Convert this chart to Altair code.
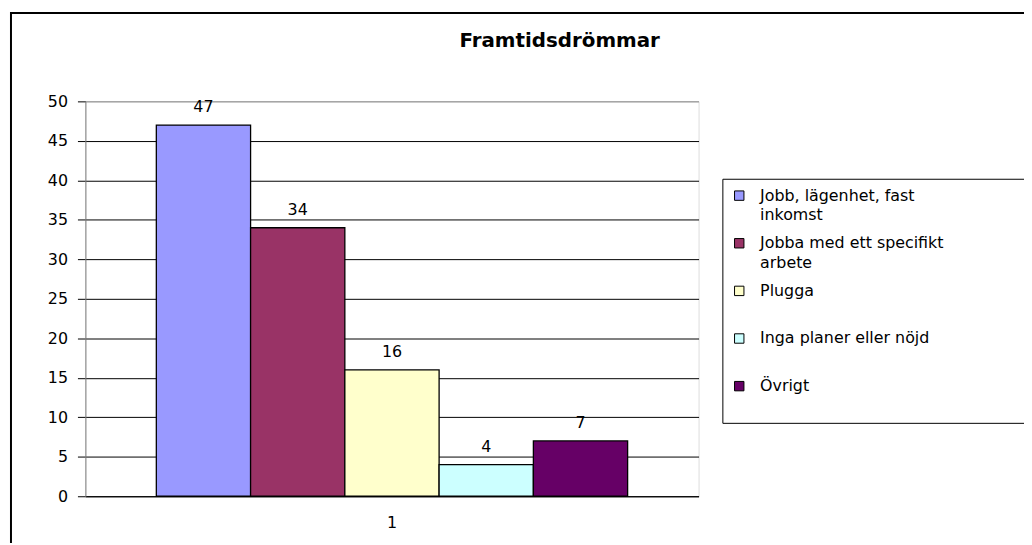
import json
import altair as alt
import pandas as pd

# ---- data ----
series = ["Jobb, lägenhet, fast inkomst", "Jobba med ett specifikt arbete",
          "Plugga", "Inga planer eller nöjd", "Övrigt"]
values = [47, 34, 16, 4, 7]
category = ["1", "1", "1", "1", "1"]
colors = ["#9999FF", "#993366", "#FFFFCC", "#CCFFFF", "#660066"]
PAD = "\u00a0" * 20 + "\u200b"   # invisible padding so the legend box runs off the right edge
legend_lines = [["Jobb, lägenhet, fast", "inkomst"],
                ["Jobba med ett specifikt" + PAD, "arbete"],
                ["Plugga", " "],
                ["Inga planer eller nöjd", " "],
                ["Övrigt", " "]]
y_ticks = [0, 5, 10, 15, 20, 25, 30, 35, 40, 45, 50]

df = pd.DataFrame({"cat": category, "series": series, "value": values})

FONT = "DejaVu Sans"
FS = 16
label_expr = json.dumps(dict(zip(series, legend_lines)), ensure_ascii=False) + "[datum.label]"

x_enc = alt.X("cat:N",
              scale=alt.Scale(paddingInner=0, paddingOuter=0.1505),
              axis=alt.Axis(title=None, labelAngle=0, ticks=False, domainColor="black",
                            domainWidth=1, labelFontSize=FS, labelFont=FONT,
                            labelColor="black", labelPadding=18))
xoff_enc = alt.XOffset("series:N", sort=series,
                       scale=alt.Scale(domain=series, paddingInner=0, paddingOuter=0))
y_enc = alt.Y("value:Q",
              scale=alt.Scale(domain=[0, 50], nice=False),
              axis=alt.Axis(title=None, values=y_ticks, tickSize=8, labelPadding=10,
                            labelFontSize=FS, labelFont=FONT, labelColor="black",
                            labelOverlap=False,
                            domainColor="#808080", tickColor="black",
                            gridColor=alt.condition("datum.value == 50", alt.value("#808080"), alt.value("black")),
                            gridWidth=1, grid=True))

bars = alt.Chart(df).mark_bar(stroke="black", strokeWidth=1.3, opacity=1).encode(
    x=x_enc,
    xOffset=xoff_enc,
    y=y_enc,
    color=alt.Color("series:N",
                    scale=alt.Scale(domain=series, range=colors),
                    legend=alt.Legend(title=None, orient="none", legendX=642, legendY=78,
                                      fillColor="white", strokeColor="black", padding=9,
                                      symbolType="square", symbolSize=90,
                                      symbolStrokeColor="black", symbolStrokeWidth=1,
                                      symbolOpacity=1,
                                      labelFont=FONT, labelFontSize=FS, labelColor="black",
                                      labelLimit=800, labelOffset=13, rowPadding=12,
                                      labelExpr=label_expr)),
)

labels = alt.Chart(df).mark_text(baseline="alphabetic", dy=-13, fontSize=FS,
                                 font=FONT, color="black").encode(
    x=x_enc,
    xOffset=xoff_enc,
    y=y_enc,
    text="value:Q",
)

frame = alt.Chart(alt.Data(values=[{}])).mark_rect(
    fill=None, stroke="black", strokeWidth=2, clip=False
).encode(
    x=alt.value(-75), x2=alt.value(1100), y=alt.value(-89), y2=alt.value(700)
)

chart = alt.layer(bars, labels, frame).properties(
    width=618, height=398,
    padding={"left": 78, "top": 92, "right": 328, "bottom": 45},
    autosize=alt.AutoSizeParams(type="none"),
    title=alt.TitleParams("Framtidsdrömmar", font=FONT, fontSize=20, fontWeight="bold",
                          color="black", anchor="middle", dx=169, dy=69, offset=30),
    background="white",
).configure_view(
    fill="#C0C0C0", stroke="#808080", strokeWidth=1
).configure(
    style={"guide-label": {"lineHeight": 20}}
)

chart.save("out.html", embed_options={"renderer": "svg", "actions": False})
